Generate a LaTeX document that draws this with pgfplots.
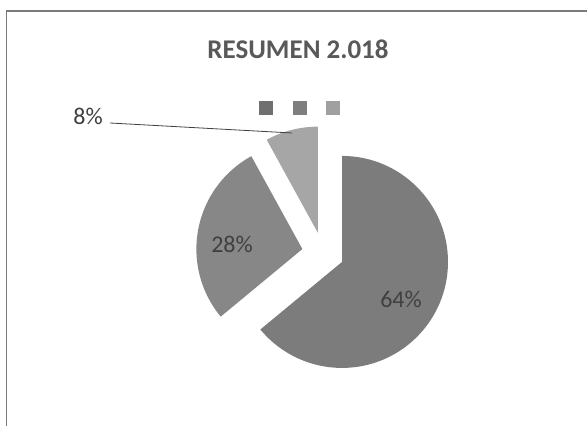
\documentclass[border=0pt]{standalone}
\usepackage{pgfplots}
\pgfplotsset{compat=1.18}
\usepackage{pgfplotstable}
\usepackage{fontspec}
\setmainfont{Carlito}
\definecolor{sA}{HTML}{7C7C7C}
\definecolor{sB}{HTML}{878787}
\definecolor{sC}{HTML}{A6A6A6}
\definecolor{lgA}{HTML}{707070}
\definecolor{lgB}{HTML}{7E7E7E}
\definecolor{lgC}{HTML}{A0A0A0}
\definecolor{titlec}{HTML}{595959}
\definecolor{labc}{HTML}{404040}
\definecolor{framec}{HTML}{7A7A7A}
\pgfplotstableread{
label value
A 64
B 28
C 8
}\piedata
\begin{document}
\begin{tikzpicture}
\pgfplotstablegetelem{0}{value}\of\piedata \let\va\pgfplotsretval
\pgfplotstablegetelem{1}{value}\of\piedata \let\vb\pgfplotsretval
\pgfplotstablegetelem{2}{value}\of\piedata \let\vc\pgfplotsretval
\pgfmathsetmacro\aA{90}
\pgfmathsetmacro\aB{\aA-3.6*\va}
\pgfmathsetmacro\aC{\aB-3.6*\vb}
\pgfmathsetmacro\aD{\aC-3.6*\vc}
\pgfmathsetmacro\mA{(\aA+\aB)/2}
\pgfmathsetmacro\mB{(\aB+\aC)/2}
\pgfmathsetmacro\mC{(\aC+\aD)/2}
\def\cx{323}\def\cy{173}\def\ex{21}\def\rr{106pt}
\begin{axis}[at={(0,0)}, anchor=south west, width=587pt, height=426pt,
  scale only axis, xmin=0, xmax=587, ymin=0, ymax=426, hide axis, clip=false]
% frame
\draw[framec, line width=1.2pt] (axis cs:6.5,0) -- (axis cs:6.5,415) -- (axis cs:587,415);
% title
\node[font=\fontsize{27}{30}\selectfont\bfseries, text=titlec] at (axis cs:298,377) {RESUMEN 2.018};
% slices
\fill[sA] (axis cs:{\cx+\ex*cos(\mA)},{\cy+\ex*sin(\mA)}) -- ++(\aA:\rr) arc[start angle=\aA, end angle=\aB, radius=\rr] -- cycle;
\fill[sB] (axis cs:{\cx+\ex*cos(\mB)},{\cy+\ex*sin(\mB)}) -- ++(\aB:\rr) arc[start angle=\aB, end angle=\aC, radius=\rr] -- cycle;
\fill[sC] (axis cs:{\cx+\ex*cos(\mC)},{\cy+\ex*sin(\mC)}) -- ++(\aC:\rr) arc[start angle=\aC, end angle=\aD, radius=\rr] -- cycle;
% legend squares
\fill[lgA] (axis cs:259,311) rectangle (axis cs:273,325);
\fill[lgB] (axis cs:293,311) rectangle (axis cs:307,325);
\fill[lgC] (axis cs:326,311) rectangle (axis cs:340,325);
% labels
\node[font=\fontsize{24}{28}\selectfont, text=labc] at (axis cs:401,127) {64\%};
\node[font=\fontsize{24}{28}\selectfont, text=labc] at (axis cs:232,182) {28\%};
\node[font=\fontsize{24}{28}\selectfont, text=labc] at (axis cs:88,310) {8\%};
\draw[labc, line width=0.8pt] (axis cs:110,303) -- (axis cs:292,293);
\end{axis}
\pgfresetboundingbox
\path[use as bounding box] (0,0) rectangle (587pt,426pt);
\end{tikzpicture}
\end{document}
